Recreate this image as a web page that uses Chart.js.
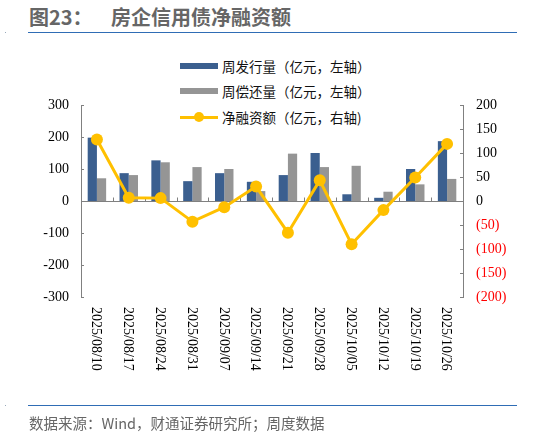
<!DOCTYPE html>
<html lang="zh-CN"><head><meta charset="utf-8">
<script src="https://cdn.jsdelivr.net/npm/chart.js@4.4.1/dist/chart.umd.min.js"></script>
<style>
html,body{margin:0;padding:0;}
body{width:533px;height:436px;position:relative;background:#fff;overflow:hidden;font-family:"Noto Sans CJK SC",sans-serif;}
#c{position:absolute;left:0;top:0;}
.t{position:absolute;white-space:nowrap;}
#title1{left:29px;top:3px;font-size:20px;font-weight:bold;color:#666;line-height:28px;}
#title2{left:111px;top:3px;font-size:20px;font-weight:bold;color:#666;line-height:28px;}
.hl{position:absolute;left:28px;width:489px;height:1.5px;background:#2f6db5;}
#src{left:29px;top:413px;font-size:14.5px;color:#666;line-height:20px;}
.lg{position:absolute;left:222px;font-size:13.5px;color:#111;line-height:18px;white-space:nowrap;}
.po{display:inline-block;width:1em;text-align:right;}
.pc{display:inline-block;width:1em;text-align:left;}
.sw{position:absolute;left:180px;width:38px;height:6px;}
.dot{position:absolute;width:1px;height:1px;background:#9ab;}
</style></head><body>
<div class="t" id="title1">图23：</div>
<div class="t" id="title2">房企信用债净融资额</div>
<div class="hl" style="top:31.5px"></div>
<div class="dot" style="left:5px;top:32px"></div>
<div class="sw" id="sw1" style="top:63px"></div>
<div class="lg" id="lg1" style="top:57px"></div>
<div class="sw" id="sw2" style="top:88px"></div>
<div class="lg" id="lg2" style="top:82px"></div>
<div class="sw" id="sw3" style="top:115.5px;height:3px"></div>
<div id="sw3dot" style="position:absolute;left:194px;top:112px;width:10px;height:10px;border-radius:50%"></div>
<div class="lg" id="lg3" style="top:108px"></div>
<canvas id="c" width="533" height="436"></canvas>
<div class="hl" style="top:404.5px"></div>
<div class="dot" style="left:5px;top:405px"></div>
<div class="t" id="src">数据来源：Wind，财通证券研究所；周度数据</div>
<script>
const categories = ['2025/08/10','2025/08/17','2025/08/24','2025/08/31','2025/09/07','2025/09/14','2025/09/21','2025/09/28','2025/10/05','2025/10/12','2025/10/19','2025/10/26'];
const issuance = [198, 87, 127, 62, 87, 60, 81, 150, 21, 10, 100, 187];
const repayment = [71, 81, 121, 106, 100, 31, 148, 106, 110, 29, 52, 69];
const netFinancing = [128, 7, 6, -43, -13, 30, -66, 43, -90, -19, 49, 119];
const leftTicks = [-300, -200, -100, 0, 100, 200, 300];
const rightTicks = [-200, -150, -100, -50, 0, 50, 100, 150, 200];
const seriesNames = ['周发行量（亿元，左轴）', '周偿还量（亿元，左轴）', '净融资额（亿元，右轴)'];

const BLUE = '#3b5f8f', GRAY = '#959595', YELLOW = '#ffc000', AXIS = '#808080';

function legendHTML(s) {
  return s.replace(/（/g, '<span class="po">（</span>').replace(/）/g, '<span class="pc">）</span>');
}
document.getElementById('sw1').style.background = BLUE;
document.getElementById('sw2').style.background = GRAY;
document.getElementById('sw3').style.background = YELLOW;
document.getElementById('sw3dot').style.background = YELLOW;
document.getElementById('lg1').innerHTML = legendHTML(seriesNames[0]);
document.getElementById('lg2').innerHTML = legendHTML(seriesNames[1]);
document.getElementById('lg3').innerHTML = legendHTML(seriesNames[2]);

const serif = 'Liberation Serif';

const decor = {
  id: 'decor',
  beforeDatasetsDraw(chart) {
    const ctx = chart.ctx, a = chart.chartArea;
    const y = chart.scales.y, x = chart.scales.x;
    const y0 = Math.round(y.getPixelForValue(0)) + 0.5;
    ctx.save();
    ctx.strokeStyle = AXIS; ctx.lineWidth = 1;
    ctx.beginPath(); ctx.moveTo(a.left, y0); ctx.lineTo(a.right, y0); ctx.stroke();
    const n = categories.length;
    for (let i = 1; i < n; i++) {
      const px = Math.round((x.getPixelForValue(i - 1) + x.getPixelForValue(i)) / 2) + 0.5;
      ctx.beginPath(); ctx.moveTo(px, y0); ctx.lineTo(px, y0 - 4); ctx.stroke();
    }
    leftTicks.forEach(v => {
      const py = Math.round(y.getPixelForValue(v)) + 0.5;
      ctx.beginPath(); ctx.moveTo(a.left, py); ctx.lineTo(a.left + 3, py); ctx.stroke();
    });
    const y1 = chart.scales.y1;
    rightTicks.forEach(v => {
      const py = Math.round(y1.getPixelForValue(v)) + 0.5;
      ctx.beginPath(); ctx.moveTo(a.right, py); ctx.lineTo(a.right - 3, py); ctx.stroke();
    });
    ctx.restore();
  },
  afterDraw(chart) {
    const ctx = chart.ctx, x = chart.scales.x, a = chart.chartArea;
    ctx.save();
    ctx.fillStyle = '#000';
    ctx.font = '14px "' + serif + '"';
    ctx.textAlign = 'left';
    ctx.textBaseline = 'middle';
    categories.forEach((c, i) => {
      const px = x.getPixelForValue(i);
      ctx.save();
      ctx.translate(px - 1, a.bottom + 10);
      ctx.rotate(Math.PI / 2);
      ctx.fillText(c, 0, 0);
      ctx.restore();
    });
    ctx.restore();
  }
};

new Chart(document.getElementById('c'), {
  type: 'bar',
  data: {
    labels: categories,
    datasets: [
      { type: 'line', label: seriesNames[2], data: netFinancing, yAxisID: 'y1', order: 0,
        borderColor: YELLOW, backgroundColor: YELLOW, borderWidth: 3,
        pointRadius: 6, pointBackgroundColor: YELLOW, pointBorderWidth: 0, tension: 0 },
      { label: seriesNames[0], data: issuance, yAxisID: 'y', order: 1, backgroundColor: BLUE,
        categoryPercentage: 0.58, barPercentage: 1 },
      { label: seriesNames[1], data: repayment, yAxisID: 'y', order: 1, backgroundColor: GRAY,
        categoryPercentage: 0.58, barPercentage: 1 }
    ]
  },
  options: {
    responsive: false,
    animation: false,
    devicePixelRatio: 1,
    layout: { padding: { top: 105, bottom: 139, left: 0, right: 0 } },
    plugins: { legend: { display: false }, tooltip: { enabled: false } },
    scales: {
      x: { display: false, offset: true },
      y: {
        position: 'left', min: -300, max: 300,
        afterBuildTicks(s) { s.ticks = leftTicks.map(v => ({ value: v })); },
        ticks: { color: '#000', font: { family: serif, size: 14 }, padding: 12 },
        grid: { display: false, drawTicks: false },
        border: { display: true, color: AXIS, width: 1 },
        afterFit(s) { s.width = 81; }
      },
      y1: {
        position: 'right', min: -200, max: 200,
        afterBuildTicks(s) { s.ticks = rightTicks.map(v => ({ value: v })); },
        ticks: {
          font: { family: serif, size: 14 }, padding: 13,
          color: c => (c.tick && c.tick.value < 0) ? '#ff0000' : '#000',
          callback: v => v < 0 ? '(' + (-v) + ')' : String(v)
        },
        grid: { display: false, drawTicks: false },
        border: { display: true, color: AXIS, width: 1 },
        afterFit(s) { s.width = 70; }
      }
    }
  },
  plugins: [decor]
});
</script>
</body></html>
